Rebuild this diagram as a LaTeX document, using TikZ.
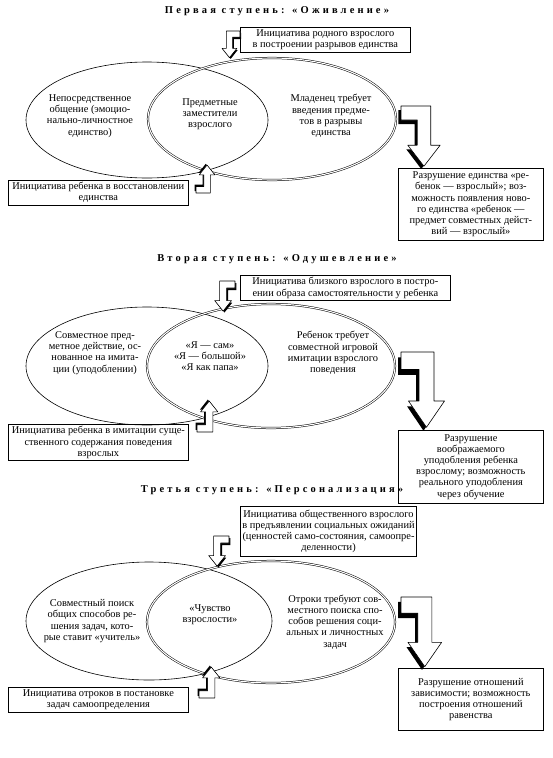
\documentclass[tikz,border=0pt]{standalone}
\usepackage{fontspec}
\setmainfont{Liberation Serif}
\usetikzlibrary{positioning}

\tikzset{
  pics/bentarrow/.style={code={
    % dark side of the arrow
    \fill[black] (-2,3) -- (20,3) -- (20,31) -- (26,31) -- (15,45) -- (4,31) -- (10,31) -- (10,13) -- (-2,13) -- cycle;
    % white face
    \draw[fill=white, line width=0.6pt, line join=round] (0,0) -- (22,0) -- (22,28) -- (29,28) -- (17,43) -- (5,28) -- (12,28) -- (12,10) -- (0,10) -- cycle;
  }}
}

\begin{document}
\begin{tikzpicture}[x=1pt, y=-1pt,
    every node/.append style={font=\fontsize{10.4}{11.2}\selectfont, align=center, inner sep=0pt}]
  \tikzstyle{title} = [font=\fontsize{10.5}{11}\selectfont\bfseries\addfontfeature{LetterSpace=30}]
  \tikzstyle{box} = [draw, line width=0.7pt, inner sep=2pt, anchor=north west]
  \tikzstyle{ring} = [line width=0.6pt]
  \tikzstyle{dring} = [double, double distance=1.1pt, line width=0.5pt]
  \useasboundingbox[fill=white] (0,0) rectangle (553,758);

  % first stage
  \node (title1) [title] at (277,11) {Первая ступень: «Оживление»};
  \draw[ring] (147,120) ellipse [x radius=121, y radius=58];
  \draw[dring] (272,119) ellipse [x radius=124, y radius=61];
  \node (top1) [box, minimum width=170pt, minimum height=25pt] at (240,27)
    {Инициатива родного взрослого\\в построении разрывов единства};
  \node (left1) at (90,116) {Непосредственное\\общение (эмоцио-\\нально-личностное\\единство)};
  \node (mid1) at (210,114) {Предметные\\заместители\\взрослого};
  \node (right1) at (331,116) {Младенец требует\\введения предме-\\тов в разрывы\\единства};
  \node (res1) [box, minimum width=145pt, minimum height=72pt] at (398,168)
    {Разрушение единства «ре-\\бенок — взрослый»; воз-\\можность появления ново-\\го единства «ребенок —\\предмет совместных дейст-\\вий — взрослый»};
  \node (child1) [box, minimum width=180pt, minimum height=24pt] at (8,180)
    {Инициатива ребенка в восстановлении\\единства};
  \pic (arr1) [xscale=1.35, yscale=1.4] at (401,106) {bentarrow};
  \pic (up1) [xscale=-0.62, yscale=0.62] at (240,31) {bentarrow};
  \pic (down1) [xscale=0.65, yscale=-0.65] at (196,193) {bentarrow};

  % second stage
  \node (title2) [title] at (277,259) {Вторая ступень: «Одушевление»};
  \draw[ring] (147,366) ellipse [x radius=121, y radius=59];
  \draw[dring] (271,366) ellipse [x radius=124, y radius=62];
  \node (top2) [box, minimum width=210pt, minimum height=25pt] at (240,275)
    {Инициатива близкого взрослого в постро-\\ении образа самостоятельности у ребенка};
  \node (left2) at (95,353) {Совместное пред-\\метное действие, ос-\\нованное на имита-\\ции (уподоблении)};
  \node (mid2) at (210,356) {«Я — сам»\\«Я — большой»\\«Я как папа»};
  \node (right2) at (333,353) {Ребенок требует\\совместной игровой\\имитации взрослого\\поведения};
  \node (res2) [box, minimum width=145pt, minimum height=73pt] at (398,430)
    {Разрушение\\воображаемого\\уподобления ребенка\\взрослому; возможность\\реального уподобления\\через обучение};
  \node (child2) [box, minimum width=180pt, minimum height=36pt] at (8,424)
    {Инициатива ребенка в имитации суще-\\ственного содержания поведения\\взрослых};
  \pic (arr2) [xscale=1.5, yscale=1.75] at (401,352) {bentarrow};
  \pic (up2) [xscale=-0.7, yscale=0.7] at (235,281) {bentarrow};
  \pic (down2) [xscale=0.72, yscale=-0.72] at (197,432) {bentarrow};

  % third stage
  \node (title3) [title] at (272,490) {Третья ступень: «Персонализация»};
  \draw[ring] (149,621) ellipse [x radius=123, y radius=59];
  \draw[dring] (271,622) ellipse [x radius=124, y radius=61];
  \node (top3) [box, minimum width=170pt, minimum height=50pt] at (240,506)
    {Инициатива общественного взрослого\\в предъявлении социальных ожиданий\\(ценностей само-состояния, самоопре-\\деленности)};
  \node (left3) at (92,621) {Совместный поиск\\общих способов ре-\\шения задач, кото-\\рые ставит «учитель»};
  \node (mid3) at (210,615) {«Чувство\\взрослости»};
  \node (right3) at (335,622) {Отроки требуют сов-\\местного поиска спо-\\собов решения соци-\\альных и личностных\\задач};
  \node (res3) [box, minimum width=145pt, minimum height=62pt] at (398,668)
    {Разрушение отношений\\зависимости; возможность\\построения отношений\\равенства};
  \node (child3) [box, minimum width=180pt, minimum height=25pt] at (8,687)
    {Инициатива отроков в постановке\\задач самоопределения};
  \pic (arr3) [xscale=1.4, yscale=1.62] at (401,597) {bentarrow};
  \pic (up3) [xscale=-0.7, yscale=0.7] at (229,536) {bentarrow};
  \pic (down3) [xscale=0.72, yscale=-0.72] at (199,698) {bentarrow};
\end{tikzpicture}
\end{document}
